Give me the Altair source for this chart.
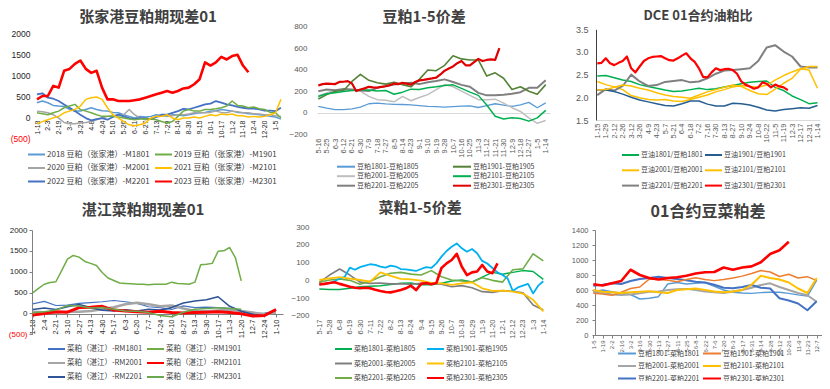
import json
import math
import pandas as pd
import altair as alt

M = 8            # page margin
W, H = 814, 373  # drawing area
CJK = "Noto Sans CJK SC"
NUM = "Liberation Sans"

# ======================= DATA =======================
# ---- Panel 1: 张家港豆粕期现差01 (step 0.5 label units) ----
P1_TITLE = "张家港豆粕期现差01"
P1_LABELS = ["1-18", "2-3", "2-19", "3-7", "3-23", "4-8", "4-24", "5-10", "5-26", "6-11", "6-27", "7-13",
             "7-29", "8-14", "8-30", "9-15", "10-1", "10-17", "11-2", "11-18", "12-4", "12-20", "1-5"]
P1_NAMES = ["2018 豆粕（张家港）-M1801", "2019 豆粕（张家港）-M1901", "2020 豆粕（张家港）-M2001",
            "2021 豆粕（张家港）-M2101", "2022  豆粕（张家港）-M2201", "2023 豆粕（张家港）-M2301"]
P1_STEPS = [0.5, 0.5, 0.5, 0.5, 0.5, 0.5]
P1_2018 = [340, 380, 340, 275, 260, 250, 180, 140, 140, 180, 220, 180, 150, 140, 110, 100, 55, 15, -25, 15, 0, 15,
           55, 30, 15, 55, 55, 30, 55, 80, 100, 110, 140, 150, 180, 160, 140, 110, 100, 80, 70, 55, 40, 15, 0, -50]
P1_2019 = [100, 80, 55, 100, 140, 220, 260, 300, 180, 140, 100, 55, 15, 15, 15, 0, -25, -50, -65, -50, -40, -50,
           -65, -105, -145, -105, 15, 140, 180, 140, 140, 180, 180, 195, 220, 260, 380, 275, 260, 220, 240, 195,
           180, 110, 100, -25]
P1_2020 = [140, 125, 100, 55, -25, -130, -160, -160, -145, -130, -105, -65, -25, 15, 30, 55, 55, 180, 55, -25, -65,
           -50, 0, 15, 30, 30, 55, 55, 70, 100, 110, 100, 110, 140, 110, 100, 140, 125, 100, 100, 80, 70, 55, 55,
           30, 15]
P1_2021 = [-160, -110, -65, -20, 15, 100, 140, 180, 260, 420, 460, 475, 420, 220, 55, -25, -105, -185, -210, -185,
           -145, -25, 15, 15, 55, -25, -65, -25, -25, 0, -25, 15, 55, 30, 70, 55, 70, 30, 30, 0, 15, 0, 15, 55,
           100, 420]
P1_2022 = [540, 565, 460, 435, 380, 300, 220, 140, 55, -25, -80, -50, -25, -65, 0, 55, 15, -25, -50, -25, -25, -50,
           0, 55, 55, 100, 140, 195, 180, 220, 260, 300, 320, 380, 340, 300, 275, 240, 220, 200, 200, 180, 150, 150,
           140, 220]
P1_2023 = [420, 500, 500, 740, 700, 1100, 1145, 1265, 1345, 1145, 1050, 1100, 700, 420, 420, 380, 380, 380, 400,
           420, 460, 500, 540, 580, 620, 580, 620, 680, 700, 780, 900, 1300, 1225, 1300, 1430, 1370, 1450, 1480,
           1225, 1065]
P1_VALUES = [P1_2018, P1_2019, P1_2020, P1_2021, P1_2022, P1_2023]

# ---- Panel 2: 豆粕1-5价差 ----
P2_TITLE = "豆粕1-5价差"
P2_LABELS = ["5-16", "5-25", "6-3", "6-12", "6-21", "6-30", "7-9", "7-18", "7-27", "8-5", "8-14", "8-23", "9-1",
             "9-10", "9-19", "9-28", "10-7", "10-16", "10-25", "11-3", "11-12", "11-21", "11-30", "12-9", "12-18",
             "12-27", "1-5", "1-14"]
P2_NAMES = ["豆粕1801-豆粕1805", "豆粕1901-豆粕1905", "豆粕2001-豆粕2005",
            "豆粕2101-豆粕2105", "豆粕2201-豆粕2205", "豆粕2301-豆粕2305"]
P2_STEPS = [1, 1, 1, 1, 1, 0.5]
P2_1801 = [57, 41, 28, 28, 35, 50, 82, 88, 80, 76, 75, 72, 65, 57, 55, 50, 55, 60, 63, 47, 65, 82, 70, 57, 72, 95,
           45, 90]
P2_1901 = [126, 167, 198, 205, 290, 356, 300, 277, 265, 283, 260, 240, 309, 397, 390, 440, 529, 500, 490, 490, 340,
           370, 320, 214, 240, 198, 170, 260]
P2_2001 = [157, 183, 210, 214, 208, 200, 151, 120, 115, 100, 150, 110, 140, 167, 214, 261, 240, 200, 160, 120, 120,
           125, 88, 45, 10, -50, -100, -75]
P2_2101 = [150, 175, 185, 195, 205, 210, 210, 200, 205, 170, 190, 218, 215, 230, 240, 252, 258, 225, 190, 160, 70,
           -35, -60, -48, -55, -80, -50, 20]
P2_2201 = [198, 214, 208, 220, 214, 205, 200, 230, 246, 261, 271, 277, 265, 283, 293, 309, 285, 258, 240, 183, 160,
           160, 165, 175, 190, 230, 230, 300]
P2_2301 = [252, 265, 270, 268, 265, 285, 287, 293, 271, 200, 215, 225, 240, 235, 232, 240, 245, 255, 270, 265, 277,
           270, 260, 285, 300, 305, 312, 318, 325, 355, 390, 410, 430, 460, 480, 440, 440, 470, 500, 480, 490, 495,
           490, 600]
P2_VALUES = [P2_1801, P2_1901, P2_2001, P2_2101, P2_2201, P2_2301]

# ---- Panel 3: DCE 01合约油粕比 ----
P3_TITLE = "DCE 01合约油粕比"
P3_LABELS = ["1-15", "1-29", "2-12", "2-26", "3-12", "3-26", "4-9", "4-23", "5-7", "5-21", "6-4", "6-18", "7-2",
             "7-16", "7-30", "8-13", "8-27", "9-10", "9-24", "10-8", "10-22", "11-5", "11-19", "12-3", "12-17",
             "12-31", "1-14"]
P3_NAMES = ["豆油1801/豆粕1801", "豆油1901/豆粕1901", "豆油2001/豆粕2001",
            "豆油2101/豆粕2101", "豆油2201/豆粕2201", "豆油2301/豆粕2301"]
P3_STEPS = [1, 1, 1, 1, 1, 0.5]
P3_1801 = [2.47, 2.48, 2.43, 2.38, 2.35, 2.28, 2.24, 2.20, 2.16, 2.13, 2.14, 2.17, 2.20, 2.17, 2.19, 2.23, 2.26,
           2.30, 2.33, 2.35, 2.36, 2.22, 2.15, 2.03, 1.95, 1.86, 1.88]
P3_1901 = [2.16, 2.16, 2.13, 2.07, 2.00, 1.94, 1.90, 1.86, 1.82, 1.81, 1.86, 1.92, 1.92, 1.85, 1.81, 1.81, 1.87,
           1.86, 1.83, 1.78, 1.72, 1.70, 1.73, 1.75, 1.77, 1.76, 1.82]
P3_2001 = [2.35, 2.28, 2.23, 2.17, 2.04, 1.99, 1.95, 1.94, 1.95, 1.92, 1.91, 1.95, 2.00, 2.05, 2.12, 2.17, 2.23,
           2.26, 2.24, 2.22, 2.27, 2.38, 2.48, 2.56, 2.63, 2.60, 2.20]
P3_2101 = [2.16, 2.17, 2.22, 2.27, 2.25, 2.20, 2.16, 2.10, 2.05, 2.02, 2.00, 1.98, 2.05, 2.12, 2.17, 2.22, 2.27,
           2.24, 2.15, 2.08, 2.06, 2.18, 2.31, 2.42, 2.62, 2.68, 2.68]
P3_2201 = [2.05, 2.18, 2.15, 2.25, 2.50, 2.35, 2.25, 2.27, 2.34, 2.36, 2.38, 2.33, 2.35, 2.42, 2.52, 2.59, 2.60,
           2.62, 2.64, 2.80, 3.10, 3.15, 3.01, 2.90, 2.68, 2.66, 2.66]
P3_2301 = [2.75, 2.76, 2.86, 2.75, 2.71, 2.76, 2.80, 2.90, 2.64, 2.55, 2.68, 2.80, 2.86, 2.89, 2.90, 2.91, 2.86,
           2.82, 2.81, 2.86, 2.92, 2.97, 2.86, 2.78, 2.64, 2.45, 2.44, 2.55, 2.64, 2.60, 2.62, 2.63, 2.60, 2.52,
           2.35, 2.28, 2.24, 2.19, 2.22, 2.33, 2.30, 2.22, 2.28, 2.24, 2.22, 2.16]
P3_VALUES = [P3_1801, P3_1901, P3_2001, P3_2101, P3_2201, P3_2301]

# ---- Panel 4: 湛江菜粕期现差01 ----
P4_TITLE = "湛江菜粕期现差01"
P4_LABELS = ["1-18", "2-4", "2-21", "3-10", "3-27", "4-13", "4-30", "5-17", "6-3", "6-20", "7-7", "7-24", "8-10",
             "8-27", "9-13", "9-30", "10-17", "11-3", "11-20", "12-7", "12-24", "1-10"]
P4_NAMES = ["菜粕（湛江）-RM1801", "菜粕（湛江）-RM1901", "菜粕（湛江）-RM2001",
            "菜粕（湛江）-RM2101", "菜粕（湛江）-RM2201", "菜粕（湛江）-RM2301"]
P4_STEPS = [1, 0.5, 1, 1, 1, 1]
P4_1801 = [230, 290, 190, 200, 240, 260, 280, 310, 280, 240, 160, 140, 95, 180, 140, 150, 140, 120, 40, -10, 10, 50]
P4_1901 = [492, 600, 700, 740, 760, 1024, 1300, 1390, 1350, 1247, 1200, 1150, 980, 850, 790, 730, 720, 710, 700,
           700, 690, 700, 700, 700, 750, 720, 710, 700, 750, 1167, 1180, 1200, 1490, 1500, 1580, 1330, 780]
P4_2001 = [40, 30, 20, 40, 40, 60, 100, 150, 220, 254, 220, 170, 190, 120, 60, 50, 70, 90, 60, 20, -20, 20]
P4_2101 = [-40, 0, 40, 30, 140, 150, 170, 80, 60, 40, 30, 50, 20, 10, 20, 30, 40, 20, -10, -60, -50, 95]
P4_2201 = [95, 130, 95, 160, 215, 140, 80, 60, 90, 60, 100, 80, 140, 250, 300, 330, 400, 170, 50, -20, -60, 95]
P4_2301 = [16, 40, 80, 190, 180, 130, 140, 100, 60, 50, 20, -50, -80, 30, 100, 119, 135, 120, 100]
P4_VALUES = [P4_1801, P4_1901, P4_2001, P4_2101, P4_2201, P4_2301]

# ---- Panel 5: 菜粕1-5价差 ----
P5_TITLE = "菜粕1-5价差"
P5_LABELS = ["5-17", "5-28", "6-8", "6-19", "6-30", "7-11", "7-22", "8-2", "8-13", "8-24", "9-4", "9-15", "9-26",
             "10-7", "10-18", "10-29", "11-9", "11-20", "12-1", "12-12", "12-23", "1-3", "1-14"]
P5_NAMES = ["菜粕1801-菜粕1805", "菜粕1901-菜粕1905", "菜粕2001-菜粕2005",
            "菜粕2101-菜粕2105", "菜粕2201-菜粕2205", "菜粕2301-菜粕2305"]
P5_STEPS = [1, 0.5, 1, 1, 1, 0.5]
P5_1801 = [-49, -52, -52, -45, -36, -33, -30, -23, -17, -15, -25, -25, -17, -4, 2, -10, 18, 45, 35, 45, 55, 50, 5]
P5_1901 = [-23, -20, -15, -5, 10, 20, 72, 60, 75, 83, 91, 88, 78, 72, 83, 78, 64, 62, 58, 53, 64, 75, 70, 96, 134,
           166, 190, 209, 181, 162, 177, 153, 110, 95, 70, 45, 30, 10, -60, -40, -30, -20, -74, -30, -5]
P5_2001 = [-11, 30, 64, 30, -10, -17, -15, -20, -20, -22, -17, -15, -22, -36, -30, -42, -64, -68, -58, -62, -70,
           -140, -168]
P5_2101 = [2, 11, 18, 10, 2, -8, 45, 25, 8, 5, -2, -15, -17, -26, -17, -11, -45, -60, -58, -64, -75, -110, -175]
P5_2201 = [-11, 2, 8, 0, -22, -5, 20, 40, 45, 35, 30, 55, 20, 2, -4, -10, 15, 0, -10, 60, 65, 150, 110]
P5_2301 = [-23, -20, -15, -11, -20, -28, -36, -42, -45, -42, -45, -53, -60, -66, -68, -62, -55, -45, -30, -55, -20,
           -15, -22, -15, 70, 96, 115, 150, 77, 30, 45, 50, 87, 50, 40, 96]
P5_VALUES = [P5_1801, P5_1901, P5_2001, P5_2101, P5_2201, P5_2301]

# ---- Panel 6: 01合约豆菜粕差 ----
P6_TITLE = "01合约豆菜粕差"
P6_LABELS = ["1-5", "1-19", "2-2", "2-16", "3-2", "3-16", "3-30", "4-13", "4-27", "5-11", "5-25", "6-8", "6-22",
             "7-6", "7-20", "8-3", "8-17", "8-31", "9-14", "9-28", "10-12", "10-26", "11-9", "11-23", "12-7"]
P6_NAMES = ["豆粕1801-菜粕1801", "豆粕1901-菜粕1901", "豆粕2001-菜粕2001",
            "豆粕2101-菜粕2101", "豆粕2201-菜粕2201", "豆粕2301-菜粕2301"]
P6_STEPS = [1, 1, 1, 1, 1, 1]
P6_1801 = [578, 600, 578, 556, 540, 480, 490, 511, 680, 700, 680, 690, 700, 650, 600, 570, 560, 555, 565, 570, 570,
           555, 535, 520, 733]
P6_1901 = [556, 545, 530, 570, 620, 640, 745, 740, 730, 710, 740, 764, 740, 725, 740, 760, 785, 820, 860, 840, 780,
           810, 760, 778, 725]
P6_2001 = [578, 560, 540, 533, 540, 556, 578, 580, 600, 610, 615, 600, 580, 570, 560, 580, 600, 631, 667, 689, 640,
           600, 560, 530, 444]
P6_2101 = [600, 578, 570, 560, 570, 578, 585, 570, 560, 600, 610, 620, 600, 580, 570, 580, 600, 670, 790, 760, 740,
           700, 620, 560, 760]
P6_2201 = [658, 670, 689, 680, 720, 746, 760, 778, 760, 746, 730, 710, 700, 670, 630, 622, 640, 667, 630, 620, 490,
           460, 420, 330, 450]
P6_2301 = [676, 660, 690, 720, 870, 800, 760, 740, 760, 770, 790, 820, 836, 840, 900, 870, 900, 915, 970, 1080, 1130,
           1244]
P6_VALUES = [P6_1801, P6_1901, P6_2001, P6_2101, P6_2201, P6_2301]

# ======================= STYLES =======================
S1 = dict(colors=["#5B9BD5", "#70AD47", "#A5A5A5", "#FFC000", "#4472C4", "#FF0000"],
          widths=[1.5, 1.5, 1.5, 1.5, 1.8, 2.6])
S2 = dict(colors=["#5B9BD5", "#548235", "#BFBFBF", "#00B050", "#808080", "#E00000"],
          widths=[1.3, 1.6, 1.5, 1.5, 2.0, 2.2])
S3 = dict(colors=["#00B050", "#255E91", "#FFC000", "#FFC000", "#808080", "#FF0000"],
          widths=[1.5, 1.5, 1.5, 1.5, 2.0, 2.2])
S4 = dict(colors=["#4472C4", "#70AD47", "#A5A5A5", "#FF0000", "#2F5597", "#6AA84F"],
          widths=[1.2, 1.5, 2.5, 3.0, 1.6, 1.5])
S5 = dict(colors=["#00B050", "#00B0F0", "#7F7F7F", "#FFC000", "#70AD47", "#FF0000"],
          widths=[1.5, 1.8, 1.6, 1.8, 1.6, 2.6])
S6 = dict(colors=["#5B9BD5", "#ED7D31", "#A5A5A5", "#FFC000", "#4472C4", "#FF0000"],
          widths=[1.5, 1.5, 2.0, 2.0, 2.0, 2.6])

# ======================= GEOMETRY (page px) =======================
G1 = dict(p0=37, pN=275.5, L=35, R=284, ydom=[-500, 2000], ytop=33, ybot=138,
          xaxis_y=117, xfs=7, xcol="#262626", xpad=3,
          yaxis_x=32, yvals=[-500, 0, 500, 1000, 1500, 2000], yfs=8.5, ycol="#262626", ypad=2, paren=True,
          title_x=148, title_y=10, title_fs=15,
          leg=dict(fs=8, Ls=17, sw=2, colA=28, colB=155, row1=154.5, spacing=13.5))
G2 = dict(p0=318.3, pN=545.7, L=317, R=550, ydom=[-200, 800], ytop=26.7, ybot=134,
          xaxis_y=136, xfs=7.5, xcol="#595959", xpad=2,
          yaxis_x=309, yvals=[-200, 0, 200, 400, 600, 800], yfmt="d", yfs=8, ycol="#595959", ypad=2,
          zero_grid=True,
          title_x=424, title_y=10, title_fs=15,
          leg=dict(fs=7, Ls=18, sw=2, colA=337, colB=453, row1=166.7, spacing=7.5))
G3 = dict(p0=597.3, pN=817.5, L=596, R=820, ydom=[1.5, 3.5], ytop=29.3, ybot=120,
          xaxis_y=120, xfs=7.5, xcol="#595959", xpad=3, xdomain="#D9D9D9",
          yaxis_x=596, yvals=[1.5, 2.0, 2.5, 3.0, 3.5], yfmt=".1f", yfs=9, ycol="#595959", ypad=8,
          ydomain="#404040",
          title_x=698, title_y=10, title_fs=13,
          leg=dict(fs=7, Ls=17, sw=2, colA=622, colB=705, row1=155, spacing=13.3))
G4 = dict(p0=32.7, pN=276, L=32, R=283, ydom=[-500, 2000], ytop=230, ybot=334.3,
          xaxis_y=314, xfs=7.5, xcol="#262626", xpad=2, xdomain="#808080", xticks="#808080",
          yaxis_x=32, yvals=[-500, 0, 500, 1000, 1500, 2000], yfs=8, ycol="#262626", ypad=2, paren=True,
          ydomain="#808080", yticks="#808080",
          title_x=143, title_y=203, title_fs=15,
          leg=dict(fs=7.5, Ls=17, sw=2, colA=48, colB=147, row1=349, spacing=12.5))
G5 = dict(p0=319.3, pN=543.3, L=317, R=547, ydom=[-200, 300], ytop=227.3, ybot=315.7,
          xaxis_y=317, xfs=7.5, xcol="#595959", xpad=2,
          yaxis_x=311, yvals=[-200, -100, 0, 100, 200, 300], yfmt="d", yfs=8, ycol="#595959", ypad=2,
          title_x=420, title_y=201, title_fs=15,
          leg=dict(fs=7, Ls=17, sw=2, colA=335, colB=427, row1=349, spacing=12.5))
G6 = dict(p0=593.3, pN=816.7, L=593, R=823, ydom=[0, 1400], ytop=230, ybot=335,
          xaxis_y=335, xfs=6, xcol="#595959", xpad=2, xdomain="#808080", xticks="#808080",
          yaxis_x=595, yvals=[0, 200, 400, 600, 800, 1000, 1200, 1400], yfmt="d", yfs=7.5, ycol="#595959",
          ypad=4, ydomain="#808080", yticks="#808080",
          title_x=708, title_y=204, title_fs=16,
          leg=dict(fs=7, Ls=18, sw=2, colA=618, colB=703, row1=353.5, spacing=10.5))


# ======================= BUILDERS =======================
def build_df(names, steps, values, style, idx):
    rows = []
    for i in idx:
        for k, v in enumerate(values[i]):
            rows.append({"t": k * steps[i], "v": v, "s": names[i], "w": style["widths"][i]})
    return pd.DataFrame(rows)


def x_axis(labels, g):
    kw = dict(orient="bottom", offset=g["xaxis_y"] - M - H, values=list(range(len(labels))),
              labelExpr=json.dumps(labels) + "[datum.value]", labelAngle=270,
              labelFont=NUM, labelFontSize=g["xfs"], labelColor=g["xcol"],
              labelPadding=g["xpad"], labelOverlap=False, labelFlush=False,
              grid=False, title=None, domain=False, ticks=False)
    if "xdomain" in g:
        kw.update(domain=True, domainColor=g["xdomain"], domainWidth=1)
    if "xticks" in g:
        kw.update(ticks=True, tickColor=g["xticks"], tickSize=3, tickWidth=1)
    return alt.Axis(**kw)


def y_axis(g):
    kw = dict(orient="left", offset=-(g["yaxis_x"] - M), values=g["yvals"], labelFont=NUM,
              labelFontSize=g["yfs"], labelColor=g["ycol"], labelPadding=g["ypad"],
              labelOverlap=False, labelFlush=False, grid=False, title=None, domain=False, ticks=False)
    if g.get("paren"):
        kw["labelExpr"] = "datum.value < 0 ? '(' + abs(datum.value) + ')' : '' + datum.value"
        kw["labelColor"] = {"condition": {"test": "datum.value < 0", "value": "#FF0000"}, "value": g["ycol"]}
    if "yfmt" in g:
        kw["format"] = g["yfmt"]
    if "ydomain" in g:
        kw.update(domain=True, domainColor=g["ydomain"], domainWidth=1)
    if "yticks" in g:
        kw.update(ticks=True, tickColor=g["yticks"], tickSize=3, tickWidth=1)
    return alt.Axis(**kw)


def legend(lg, col_x):
    fs, Ls, sw = lg["fs"], lg["Ls"], lg["sw"]
    s0 = 4.0
    a = Ls / s0
    size = max(math.ceil(s0 + sw), fs)
    return alt.Legend(orient="none", legendX=col_x - M - size / 2 + Ls / 2, legendY=lg["row1"] - M - size / 2,
                      title=None, direction="vertical", padding=0,
                      symbolType=f"M-{a:.3f},0H{a:.3f}", symbolSize=s0 * s0, symbolStrokeWidth=sw,
                      labelFont=CJK, labelFontSize=fs, labelColor="#404040",
                      labelOffset=Ls / 2 + 2 - size / 2, rowPadding=lg["spacing"] - size, labelLimit=400)


def make_panel(title, labels, names, steps, values, style, g):
    n = len(labels) - 1
    sp = (g["pN"] - g["p0"]) / n
    xdom = [(g["L"] - g["p0"]) / sp, (g["R"] - g["p0"]) / sp]
    xs = alt.Scale(domain=xdom, range=[g["L"] - M, g["R"] - M], nice=False, zero=False)
    ys = alt.Scale(domain=g["ydom"], range=[g["ybot"] - M, g["ytop"] - M], nice=False, zero=False)
    layers = []
    for part, idx in (("A", [0, 2, 4]), ("B", [1, 3, 5])):
        df = build_df(names, steps, values, style, idx)
        if part == "A":
            xa, ya = x_axis(labels, g), y_axis(g)
        else:
            xa = None
            if g.get("zero_grid"):
                ya = alt.Axis(orient="left", offset=-(g["yaxis_x"] - M), values=[0], labels=False,
                              ticks=False, domain=False, grid=True, gridColor="#D9D9D9", gridWidth=1,
                              title=None)
            else:
                ya = None
        lg = legend(g["leg"], g["leg"]["colA"] if part == "A" else g["leg"]["colB"])
        ch = alt.Chart(df).mark_line(strokeJoin="round").encode(
            x=alt.X("t:Q", scale=xs, axis=xa),
            y=alt.Y("v:Q", scale=ys, axis=ya),
            color=alt.Color("s:N", scale=alt.Scale(domain=[names[i] for i in idx],
                                                   range=[style["colors"][i] for i in idx]), legend=lg),
            strokeWidth=alt.StrokeWidth("w:Q", scale=None, legend=None),
        )
        layers.append(ch)
    t = alt.Chart(pd.DataFrame({"title": [title]})).mark_text(
        font=CJK, fontSize=g["title_fs"], fontWeight="bold", color="#404040",
        align="center", baseline="top").encode(
        x=alt.value(g["title_x"] - M), y=alt.value(g["title_y"] - M), text="title:N")
    layers.append(t)
    return layers


all_layers = []
all_layers += make_panel(P1_TITLE, P1_LABELS, P1_NAMES, P1_STEPS, P1_VALUES, S1, G1)
all_layers += make_panel(P2_TITLE, P2_LABELS, P2_NAMES, P2_STEPS, P2_VALUES, S2, G2)
all_layers += make_panel(P3_TITLE, P3_LABELS, P3_NAMES, P3_STEPS, P3_VALUES, S3, G3)
all_layers += make_panel(P4_TITLE, P4_LABELS, P4_NAMES, P4_STEPS, P4_VALUES, S4, G4)
all_layers += make_panel(P5_TITLE, P5_LABELS, P5_NAMES, P5_STEPS, P5_VALUES, S5, G5)
all_layers += make_panel(P6_TITLE, P6_LABELS, P6_NAMES, P6_STEPS, P6_VALUES, S6, G6)

chart = alt.layer(*all_layers).resolve_scale(
    x="independent", y="independent", color="independent"
).properties(
    width=W, height=H, padding=0, background="white",
    autosize=alt.AutoSizeParams(type="none"),
).configure_view(stroke=None)

chart.save("out.html", embed_options={"renderer": "svg", "actions": False})
